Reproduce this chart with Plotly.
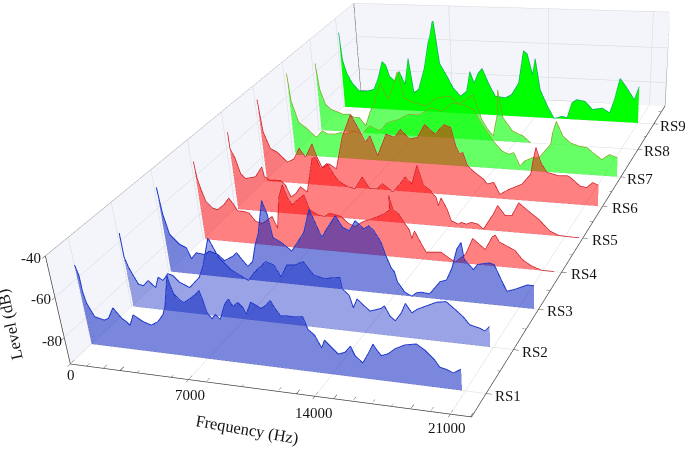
import plotly.graph_objects as go

# (frequency in Hz, level in dB), one list per recording
RS1 = [(10,-53.5),(140,-58.5),(150,-66.2),(240,-72.2),(400,-75.5),(570,-78.9),(860,-79.5),(1120,-80.1),(1410,-78.9),(1810,-73.2),(2030,-75.7),(2230,-78.1),(2490,-79.6),(2650,-81.2),(2970,-75.6),(3240,-77.1),(3500,-78.5),(3960,-79.8),(4390,-77.6),(4760,-73.8),(4970,-69.6),(5420,-53.8),(5480,-57.8),(5630,-62.7),(5870,-65.0),(6130,-66.4),(6480,-64.4),(6870,-61.8),(7120,-59.6),(7240,-63.6),(7380,-70.2),(7620,-72.9),(7840,-70.6),(8080,-72.9),(8470,-64.9),(8730,-62.2),(8920,-65.7),(9220,-63.4),(9470,-65.6),(9610,-68.8),(9950,-62.6),(10210,-63.7),(10470,-65.1),(10750,-63.5),(11050,-60.8),(11280,-64.6),(11520,-67.7),(11880,-67.3),(12320,-67.4),(12730,-66.8),(12940,-72.9),(13250,-75.1),(13570,-81.1),(13770,-77.1),(14020,-79.4),(14450,-83.2),(14810,-81.9),(15140,-78.6),(15340,-83.0),(15720,-86.1),(16040,-81.4),(16350,-76.3),(16480,-78.3),(16740,-81.4),(17090,-80.2),(17510,-77.2),(18020,-74.9),(18610,-73.8),(19040,-76.3),(19470,-80.0),(19740,-83.6),(20080,-84.3),(20430,-85.6),(20830,-83.4)]
RS2 = [(120,-55.4),(130,-67.7),(280,-72.6),(490,-76.9),(710,-81.2),(1010,-81.8),(1380,-78.8),(1780,-82.1),(2050,-76.4),(2320,-77.9),(2700,-74.0),(2990,-74.7),(3340,-77.9),(3910,-80.1),(4600,-74.4),(4930,-68.6),(5510,-53.7),(5950,-62.6),(6640,-68.8),(7560,-73.2),(8000,-68.5),(8730,-62.8),(9170,-64.0),(9510,-69.7),(9930,-63.4),(10400,-63.0),(10880,-60.9),(11400,-67.1),(11940,-68.3),(12870,-67.0),(12940,-72.5),(13300,-75.6),(13470,-81.5),(13720,-76.9),(14020,-79.4),(14390,-82.3),(15030,-80.3),(15210,-78.9),(15490,-83.8),(15760,-85.8),(16120,-81.5),(16380,-76.6),(16700,-80.9),(17010,-78.8),(17540,-76.6),(18060,-74.4),(18580,-73.6),(19130,-77.6),(19500,-80.6),(19780,-83.7),(20310,-84.9),(20580,-86.0),(20830,-83.5)]
RS3 = [(150,-49.0),(260,-62.7),(480,-73.2),(1030,-78.2),(1430,-79.7),(1650,-85.4),(2020,-81.9),(2540,-82.4),(2890,-80.3),(3400,-81.7),(3770,-84.7),(4330,-81.9),(4610,-79.8),(4900,-83.2),(5210,-86.6),(5550,-83.6),(5860,-74.3),(6120,-68.8),(6600,-51.4),(6830,-58.0),(7010,-69.9),(7490,-72.1),(8060,-76.1),(8920,-65.8),(9380,-53.7),(9720,-61.8),(9980,-67.6),(10290,-63.1),(10890,-55.9),(11250,-61.5),(11630,-62.9),(12020,-57.6),(12480,-61.4),(12770,-59.5),(13050,-61.8),(13420,-67.4),(13610,-73.3),(13890,-80.0),(14050,-81.6),(14190,-86.8),(14580,-91.9),(14970,-94.2),(15250,-91.6),(15530,-91.0),(16010,-91.4),(16640,-84.6),(17010,-83.4),(17350,-77.0),(17660,-67.4),(17910,-63.9),(18050,-72.1),(18540,-76.8),(18790,-74.0),(19410,-72.7),(19680,-73.3),(20010,-79.8),(20340,-86.1),(20780,-84.7),(21470,-81.9),(21820,-82.0)]
RS4 = [(160,-51.4),(230,-60.1),(360,-65.3),(580,-72.4),(960,-75.8),(1280,-76.5),(1760,-73.4),(2130,-69.6),(2410,-73.0),(2590,-76.2),(3020,-76.2),(3330,-76.9),(3710,-81.2),(4130,-81.9),(4470,-79.8),(4810,-77.7),(5080,-83.8),(5370,-67.4),(5700,-60.2),(5950,-67.0),(6180,-70.4),(6570,-67.5),(7000,-64.6),(7260,-72.3),(7760,-74.7),(8170,-75.3),(8490,-73.3),(8890,-73.9),(9190,-74.5),(9590,-77.8),(9990,-79.3),(10510,-76.3),(11140,-74.2),(11860,-71.1),(12180,-69.0),(12200,-61.5),(12400,-68.7),(12700,-70.3),(13100,-76.1),(13300,-78.6),(13410,-83.0),(13600,-78.9),(13910,-84.4),(14220,-89.6),(14720,-89.2),(15110,-88.9),(15520,-91.3),(15930,-93.7),(16580,-88.6),(17010,-80.2),(17720,-85.4),(18140,-78.5),(18320,-77.5),(18540,-80.8),(19430,-84.5),(19850,-89.0),(20360,-91.8),(20950,-94.0),(21620,-94.8)]
RS5 = [(220,-50.8),(230,-59.7),(490,-65.0),(720,-73.2),(1020,-75.8),(1710,-74.4),(2220,-68.6),(2310,-74.0),(2700,-75.7),(3360,-75.2),(3670,-77.8),(3950,-84.2),(4300,-82.1),(4660,-78.1),(5080,-80.7),(5620,-62.1),(5840,-61.1),(6130,-67.2),(6570,-64.2),(6960,-70.3),(7270,-73.7),(7790,-76.1),(8220,-76.8),(8760,-70.1),(9170,-76.2),(9690,-75.8),(10010,-72.9),(10630,-77.0),(11140,-72.2),(11450,-68.5),(11860,-71.8),(12240,-61.8),(12580,-72.2),(12990,-74.6),(13100,-76.3),(13310,-78.0),(13430,-82.5),(13620,-78.3),(13950,-83.9),(14190,-90.2),(14610,-91.8),(14800,-90.7),(15120,-91.4),(15410,-90.2),(15830,-90.9),(16150,-93.4),(16420,-89.5),(16780,-84.7),(17040,-80.0),(17490,-85.1),(17880,-84.8),(18300,-77.7),(18830,-81.4),(19460,-85.5),(20120,-91.3),(20640,-93.3),(21240,-94.5),(21830,-95.0)]
RS6 = [(160,-47.5),(310,-65.5),(680,-74.7),(1120,-76.4),(1550,-80.0),(1770,-81.8),(2250,-79.6),(2680,-73.3),(3060,-78.2),(3600,-70.4),(3850,-77.7),(4160,-83.8),(4630,-81.1),(5110,-83.6),(5320,-76.9),(5690,-65.6),(6380,-52.7),(6900,-61.4),(7220,-67.5),(7550,-63.8),(7970,-74.5),(8620,-62.3),(9160,-63.8),(9580,-59.2),(10120,-64.2),(10640,-63.1),(11140,-55.8),(11780,-60.7),(12380,-55.2),(12800,-56.7),(13060,-66.3),(13290,-70.6),(13490,-69.6),(13750,-76.7),(14190,-80.1),(14740,-83.5),(14970,-86.1),(15380,-84.9),(15750,-91.3),(16340,-88.1),(17140,-84.8),(17690,-78.9),(17810,-72.6),(18020,-64.5),(18310,-72.3),(18680,-77.4),(19400,-78.8),(19900,-78.5),(20110,-79.3),(20670,-83.5),(21080,-84.1),(21430,-81.2),(21780,-82.4)]
RS7 = [(200,-46.5),(310,-62.1),(690,-74.3),(1150,-77.0),(1600,-80.6),(1870,-82.4),(2320,-78.3),(2660,-80.1),(3250,-79.8),(3610,-78.7),(3950,-79.4),(4540,-77.2),(5110,-78.9),(5690,-73.8),(6380,-76.3),(6940,-71.3),(7730,-69.1),(8390,-66.0),(9160,-65.7),(9920,-61.7),(10680,-63.2),(11310,-58.4),(12060,-59.0),(12720,-61.4),(13320,-70.2),(14040,-79.1),(14510,-83.5),(14950,-85.1),(15270,-84.0),(15660,-91.4),(15960,-88.4),(16470,-86.2),(16890,-86.0),(17170,-83.0),(17640,-78.1),(17760,-71.7),(17990,-65.3),(18410,-73.1),(18870,-76.6),(19410,-78.1),(19930,-78.7),(20280,-81.3),(20850,-84.7),(21310,-81.7),(21810,-83.2)]
RS8 = [(200,-53.9),(360,-69.1),(680,-77.8),(1030,-80.6),(1630,-82.3),(1870,-83.2),(2360,-83.0),(2720,-84.8),(3080,-84.6),(3510,-89.4),(3930,-80.3),(4180,-77.2),(4780,-63.6),(5240,-72.9),(5590,-67.1),(6040,-56.6),(6410,-71.5),(7110,-74.1),(7930,-75.6),(8720,-70.5),(9620,-69.2),(10210,-73.7),(11190,-67.6),(11740,-81.6),(12130,-87.2),(12500,-90.9),(12830,-77.3),(12870,-64.2),(13190,-80.0),(13820,-87.4),(14520,-89.9),(15020,-94.6)]
RS9 = [(130,-48.5),(240,-64.7),(470,-72.5),(820,-78.4),(1310,-83.2),(1940,-83.0),(2440,-81.8),(2820,-74.7),(3190,-64.7),(3430,-66.6),(3670,-73.4),(4040,-76.2),(4400,-70.2),(4780,-77.9),(5110,-62.2),(5400,-82.6),(5750,-80.5),(6250,-67.6),(6620,-52.3),(6770,-48.6),(7030,-38.5),(7370,-64.3),(7750,-70.0),(8270,-78.5),(8770,-83.3),(9230,-80.1),(9500,-68.4),(9780,-75.0),(10090,-69.1),(10370,-66.2),(10840,-75.6),(11250,-82.2),(11950,-82.9),(12400,-80.8),(12900,-73.8),(13120,-62.4),(13260,-55.0),(13510,-56.7),(13870,-68.7),(14050,-59.3),(14380,-77.1),(14880,-86.6),(15330,-94.3),(15540,-93.2),(15870,-92.1),(16230,-92.9),(16550,-83.9),(16860,-81.9),(17430,-82.6),(17950,-87.2),(18600,-86.0),(19100,-88.6),(19400,-80.8),(19730,-68.5),(20140,-73.0),(20710,-80.3),(21000,-72.6)]

FREQ_TICKS = [0, 7000, 14000, 21000]
LEVEL_TICKS = [-40, -60, -80]
SERIES_NAMES = ['RS1','RS2','RS3','RS4','RS5','RS6','RS7','RS8','RS9']
XR = [0, 22050]; YR = [0.501, 9.747]; ZR = [-93.662, -40]
BLUE='rgb(0,25,190)'; RED='rgb(255,0,0)'; GREEN='rgb(0,255,0)'
LBLUE='rgb(25,50,200)'; LRED='rgb(200,20,30)'; LGREEN='rgb(125,165,30)'
series=[(9,RS9,GREEN,1,'rgb(10,160,110)',1.5),(8,RS8,GREEN,.6,LGREEN,1.5),(7,RS7,GREEN,.6,LGREEN,1.5),
        (6,RS6,RED,.5,LRED,1.5),(5,RS5,RED,.5,LRED,1.5),(4,RS4,RED,.5,LRED,1.5),
        (3,RS3,BLUE,.52,LBLUE,2),(2,RS2,BLUE,.4,LBLUE,2),(1,RS1,BLUE,.52,LBLUE,2)]

fig=go.Figure()
def path(pts,color,width):
    xs,ys,zs=[],[],[]
    for p in pts:
        if p is None: xs.append(None);ys.append(None);zs.append(None)
        else: xs.append(p[0]);ys.append(p[1]);zs.append(p[2])
    fig.add_trace(go.Scatter3d(x=xs,y=ys,z=zs,mode='lines',line=dict(color=color,width=width),showlegend=False,hoverinfo='skip'))
x0,x1=XR;y0,y1=YR;z0,z1=ZR
# box edges the axes do not draw
path([(x0,y0,z0),(x0,y1,z0),(x0,y1,z1),None,(x0,y0,z0),(x0,y0,z1)],'rgb(85,85,85)',1.2)
path([(x0,y0,z1),(x0,y1,z1),(x1,y1,z1),(x1,y1,z0),(x0,y1,z0)],'rgb(140,140,140)',1.2)
# minor ticks
mt=[]
for f in range(0,22001,1000):
    mt+=[(f,y0,z0),(f,y0+.09,z0),None]
for k in range(1,10):
    mt+=[(x1,k+.5,z0),(x1-200,k+.5,z0),None]
path(mt,'rgb(60,60,60)',1)
for k,d,c,al,lc,lw in series:
    x=[p[0] for p in d]; z=[max(p[1],z0+.05) for p in d]
    fig.add_trace(go.Surface(x=[x,x],y=[[k]*len(x)]*2,z=[[z0]*len(x),z],surfacecolor=[[0]*len(x)]*2,colorscale=[[0,c],[1,c]],showscale=False,opacity=al,
      lighting=dict(ambient=1,diffuse=0,specular=0,roughness=1,fresnel=0),hoverinfo='skip'))
    fig.add_trace(go.Scatter3d(x=x,y=[k]*len(x),z=z,mode='lines',line=dict(color=lc,width=lw),showlegend=False,hoverinfo='skip'))

tick=dict(family='Liberation Serif',size=15,color='rgb(20,20,20)')
title=dict(family='Liberation Serif',size=16.5,color='rgb(20,20,20)')
def note(x,y,z,text,dx,dy,font=tick,angle=0):
    return dict(x=x,y=y,z=z,text=text,showarrow=False,xshift=dx,yshift=-dy,font=font,textangle=angle,xanchor='center',yanchor='middle')
ann=[]
for f,(dx,dy) in zip(FREQ_TICKS,[(1,11),(1,15),(-1,17),(-3,14)]):
    ann.append(note(f,y0,z0,str(f),dx,dy))
for i,n in enumerate(SERIES_NAMES):
    ann.append(note(x1,i+1,z0,n,22 if i<6 else 19,2))
for v,(dx,dy) in zip(LEVEL_TICKS,[(-14,2),(-14,2),(-12,4)]):
    ann.append(note(x0,y0,v,str(v),dx,dy))
ann.append(note(10500,y0,z0,'Frequency (Hz)',-4,42,title,10))
ann.append(note(x0,y0,-60,'Level (dB)',-45,27,title,-102))

grid='rgb(214,214,218)'
ax=dict(showbackground=True,gridcolor=grid,gridwidth=1,showline=True,linecolor='rgb(60,60,60)',linewidth=1.5,ticks='inside',ticklen=4,tickcolor='rgb(60,60,60)',showticklabels=False,zeroline=False,showspikes=False,title=dict(text=''))
fig.update_layout(width=685,height=1200,margin=dict(l=0,r=0,t=0,b=0),paper_bgcolor='white',showlegend=False,
 scene=dict(domain=dict(x=[0,1],y=[0,1]),annotations=ann,
  xaxis=dict(ax,range=XR,tickvals=FREQ_TICKS,backgroundcolor='rgb(243,245,250)'),
  yaxis=dict(ax,range=YR,tickvals=list(range(1,10)),backgroundcolor='rgb(243,245,250)'),
  zaxis=dict(ax,range=ZR,tickvals=LEVEL_TICKS,backgroundcolor='white'),
  aspectmode='manual',aspectratio=dict(x=1,y=1.864,z=0.276),
  camera=dict(eye=dict(x=1.394,y=-3.453,z=1.478),center=dict(x=0.034,y=-0.706,z=-0.909),up=dict(x=0.057,y=0.096,z=1))))
fig.write_html("out.html",config=dict(displayModeBar=False),post_script="document.body.style.margin='0';document.documentElement.style.overflow='hidden';document.body.style.overflow='hidden';")
